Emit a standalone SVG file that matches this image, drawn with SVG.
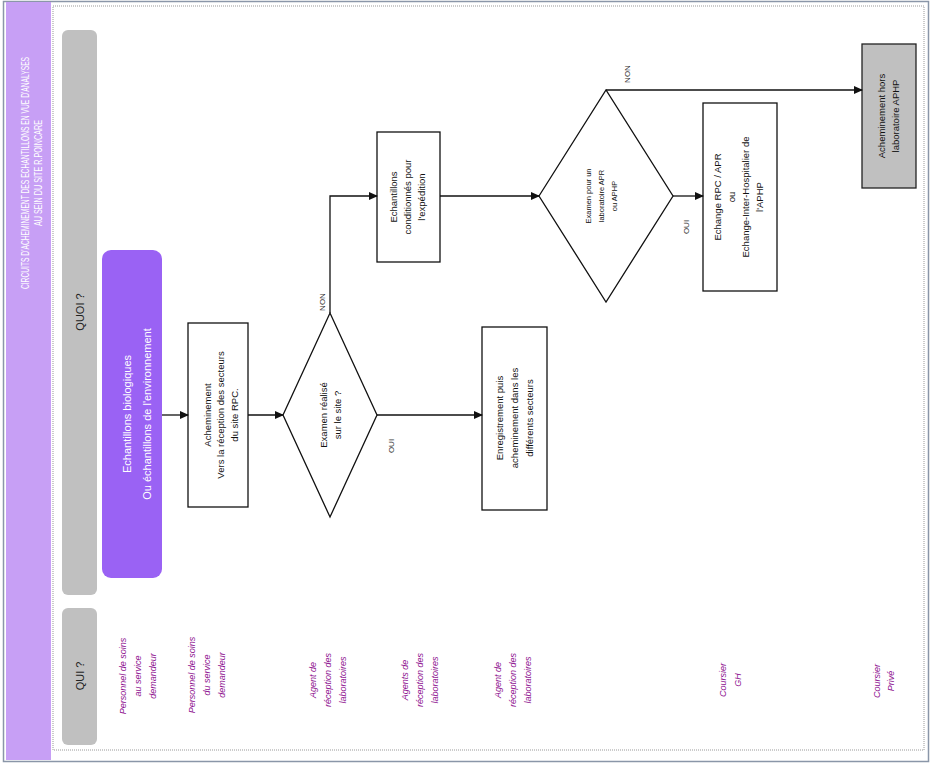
<svg xmlns="http://www.w3.org/2000/svg" width="932" height="764" viewBox="0 0 932 764">
<defs>
<marker id="arr" markerUnits="userSpaceOnUse" markerWidth="9" markerHeight="8" refX="8" refY="4" orient="auto">
<path d="M0,0 L9,4 L0,8 Z" fill="#111"/>
</marker>
<style>
text{font-family:"Liberation Sans","DejaVu Sans",sans-serif;text-anchor:middle;dominant-baseline:central}
.title{fill:#fff;font-size:11px}
.hdr{fill:#222;font-size:11px}
.box{fill:#fff;stroke:#111;stroke-width:1.3}
.bt{fill:#111;font-size:9.5px}
.st{fill:#111;font-size:7.5px}
.lbl{fill:#333;font-size:8px}
.who{fill:#8e1290;font-size:9px;font-style:italic}
.wt{fill:#fff;font-size:11px}
.conn path{fill:none;stroke:#111;stroke-width:1.3;marker-end:url(#arr)}
</style>
</defs>
<rect x="0" y="0" width="932" height="764" fill="#fff"/>
<rect x="3.5" y="1.5" width="925" height="760" fill="none" stroke="#8a96a8" stroke-width="1.5"/>
<rect x="53" y="6" width="871" height="744" fill="none" stroke="#999" stroke-width="1" stroke-dasharray="1,1"/>

<g id="title">
<rect x="6" y="2" width="45" height="758" fill="#c79ff5"/>
<text class="title" transform="translate(0,173) rotate(-90) scale(0.6,1)" x="0" y="25" textLength="387" lengthAdjust="spacingAndGlyphs">CIRCUITS D'ACHEMINEMENT DES ECHANTILLONS EN VUE D'ANALYSES</text>
<text class="title" transform="translate(0,173) rotate(-90) scale(0.6,1)" x="0" y="38" textLength="177" lengthAdjust="spacingAndGlyphs">AU SEIN DU SITE R.POINCARE</text>
</g>

<g id="hdr-quoi">
<rect x="62" y="30" width="35" height="565" rx="6" fill="#c0c0c0"/>
<text class="hdr" transform="translate(0,312) rotate(-90)" x="0" y="80">QUOI ?</text>
</g>
<g id="hdr-qui">
<rect x="62" y="608" width="35" height="137" rx="6" fill="#c0c0c0"/>
<text class="hdr" transform="translate(0,676) rotate(-90)" x="0" y="80">QUI ?</text>
</g>

<g id="n-echantillons">
<rect x="102" y="250" width="60" height="328" rx="9" fill="#9a62f4"/>
<text class="wt" transform="translate(0,414) rotate(-90)"><tspan x="0" y="127">Echantillons  biologiques</tspan><tspan x="0" y="147">Ou échantillons  de l'environnement</tspan></text>
</g>

<g id="n-acheminement">
<rect class="box" x="188" y="323" width="60" height="184"/>
<text class="bt" transform="translate(0,415) rotate(-90)"><tspan x="0" y="207">Acheminement</tspan><tspan x="0" y="220">Vers la réception des secteurs</tspan><tspan x="0" y="234">du site RPC.</tspan></text>
</g>

<g id="n-examen">
<polygon class="box" points="283,415 330,313 377,415 330,517"/>
<text class="bt" transform="translate(0,415) rotate(-90)"><tspan x="0" y="323">Examen réalisé</tspan><tspan x="0" y="337">sur le site ?</tspan></text>
</g>

<g id="n-conditionnes">
<rect class="box" x="377" y="132" width="63" height="130"/>
<text class="bt" transform="translate(0,197) rotate(-90)"><tspan x="0" y="393">Echantillons</tspan><tspan x="0" y="407">conditionnés  pour</tspan><tspan x="0" y="421">l'expédition</tspan></text>
</g>

<g id="n-enregistrement">
<rect class="box" x="482" y="327" width="65" height="183"/>
<text class="bt" transform="translate(0,418) rotate(-90)"><tspan x="0" y="499">Enregistrement  puis</tspan><tspan x="0" y="514">acheminement  dans les</tspan><tspan x="0" y="529">différents  secteurs</tspan></text>
</g>

<g id="n-examen2">
<polygon class="box" points="539,196 606,90 673,196 606,302"/>
<text class="st" transform="translate(0,196) rotate(-90)"><tspan x="0" y="588">Examen  pour un</tspan><tspan x="0" y="601">laboratoire  APR</tspan><tspan x="0" y="614">ou APHP</tspan></text>
</g>

<g id="n-echange">
<rect class="box" x="703" y="103" width="74" height="188"/>
<text class="bt" transform="translate(0,197) rotate(-90)"><tspan x="0" y="717">Echange RPC / APR</tspan><tspan x="0" y="731">ou</tspan><tspan x="0" y="745">Echange-Inter-Hospitalier  de</tspan><tspan x="0" y="759">l'APHP</tspan></text>
</g>

<g id="n-hors">
<rect x="862" y="44" width="54" height="144" fill="#c0c0c0" stroke="#222" stroke-width="1.3"/>
<text class="bt" transform="translate(0,116) rotate(-90)"><tspan x="0" y="881">Acheminement  hors</tspan><tspan x="0" y="895">laboratoire  APHP</tspan></text>
</g>

<g class="conn" id="connectors">
<path d="M162,415 H188"/>
<path d="M248,415 H283"/>
<path d="M330,313 V196 H377"/>
<path d="M377,415 H482"/>
<path d="M440,196 H539"/>
<path d="M606,90 H862"/>
<path d="M673,196 H703"/>
<text class="lbl" transform="translate(0,302) rotate(-90)" x="0" y="322">NON</text>
<text class="lbl" transform="translate(0,446) rotate(-90)" x="0" y="391">OUI</text>
<text class="lbl" transform="translate(0,74) rotate(-90)" x="0" y="627">NON</text>
<text class="lbl" transform="translate(0,227) rotate(-90)" x="0" y="686">OUI</text>
</g>

<g id="qui-1"><text class="who" transform="translate(0,676) rotate(-90)"><tspan x="0" y="123">Personnel de soins</tspan><tspan x="0" y="138">au service</tspan><tspan x="0" y="153">demandeur</tspan></text></g>
<g id="qui-2"><text class="who" transform="translate(0,675) rotate(-90)"><tspan x="0" y="192">Personnel de soins</tspan><tspan x="0" y="207">du service</tspan><tspan x="0" y="222">demandeur</tspan></text></g>
<g id="qui-3"><text class="who" transform="translate(0,680) rotate(-90)"><tspan x="0" y="313">Agent de</tspan><tspan x="0" y="328">réception des</tspan><tspan x="0" y="343">laboratoires</tspan></text></g>
<g id="qui-4"><text class="who" transform="translate(0,680) rotate(-90)"><tspan x="0" y="405">Agents de</tspan><tspan x="0" y="420">réception des</tspan><tspan x="0" y="435">laboratoires</tspan></text></g>
<g id="qui-5"><text class="who" transform="translate(0,680) rotate(-90)"><tspan x="0" y="498">Agent de</tspan><tspan x="0" y="513">réception des</tspan><tspan x="0" y="528">laboratoires</tspan></text></g>
<g id="qui-6"><text class="who" transform="translate(0,680) rotate(-90)"><tspan x="0" y="723">Coursier</tspan><tspan x="0" y="738">GH</tspan></text></g>
<g id="qui-7"><text class="who" transform="translate(0,681) rotate(-90)"><tspan x="0" y="877">Coursier</tspan><tspan x="0" y="891">Privé</tspan></text></g>
</svg>
